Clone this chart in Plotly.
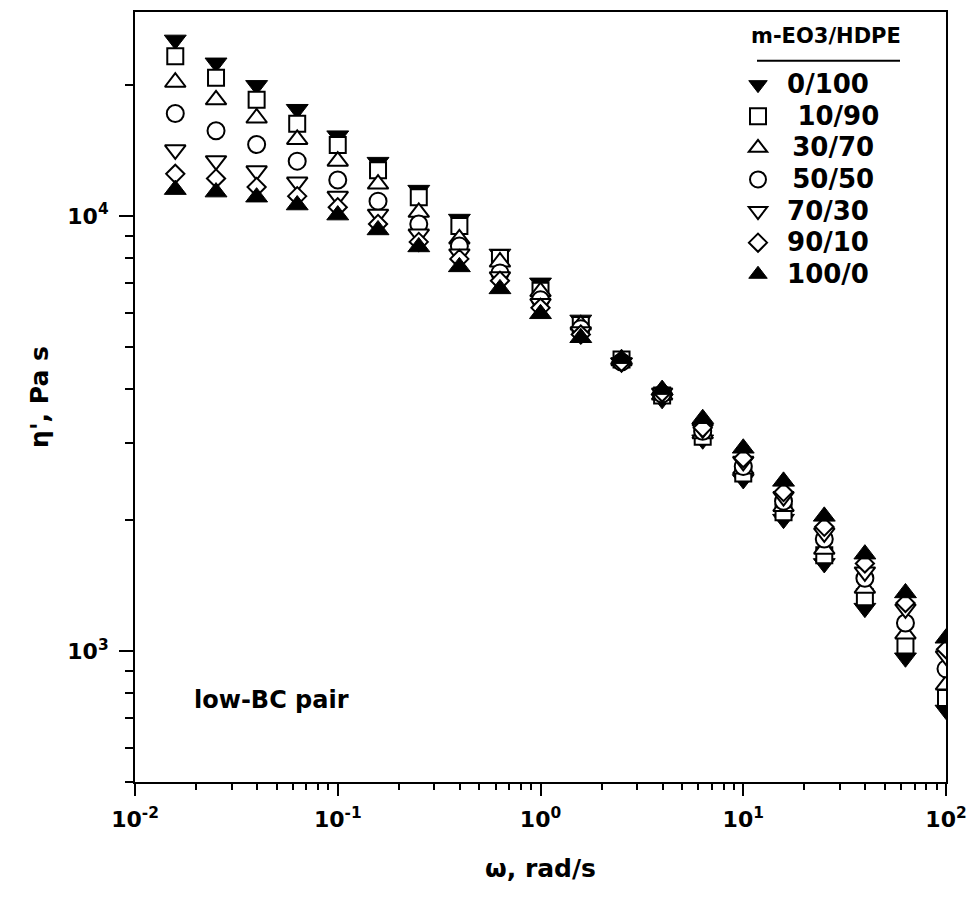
import plotly.graph_objects as go
import math

# ---------------- data ----------------
omega = [0.0158, 0.0251, 0.0398, 0.0631, 0.1, 0.158, 0.251, 0.398, 0.631, 1.0,
         1.58, 2.51, 3.98, 6.31, 10, 15.8, 25.1, 39.8, 63.1, 100]

labels = ["0/100", "\u2009\u200910/90", "\u200930/70", "\u200950/50", "70/30", "90/10", "100/0"]
legend_title = "m-EO3/HDPE"

eta_0_100 = [25400, 22500, 19970, 17600, 15300, 13300, 11470, 9840, 8180, 7020,
             5770, 4600, 3790, 3060, 2480, 2010, 1590, 1255, 965, 732]
eta_10_90 = [23300, 20800, 18500, 16300, 14560, 12750, 11050, 9490, 8010, 6730,
             5620, 4680, 3870, 3110, 2560, 2085, 1660, 1330, 1030, 780]
eta_30_70 = [20300, 18500, 16800, 15000, 13370, 11840, 10200, 8860, 7840, 6700,
             5620, 4650, 3880, 3160, 2620, 2150, 1715, 1395, 1095, 836]
eta_50_50 = [17200, 15700, 14600, 13370, 12100, 10820, 9590, 8530, 7400, 6420,
             5510, 4620, 3900, 3200, 2655, 2210, 1810, 1470, 1160, 910]
eta_70_30 = [14200, 13400, 12700, 11970, 11100, 10100, 9090, 8180, 7250, 6290,
             5420, 4600, 3920, 3240, 2730, 2265, 1870, 1520, 1250, 975]
eta_90_10 = [12500, 12200, 11660, 11110, 10480, 9590, 8720, 7970, 7100, 6150,
             5340, 4620, 3930, 3260, 2775, 2320, 1930, 1590, 1290, 1010]
eta_100_0 = [11500, 11350, 11050, 10600, 10050, 9290, 8490, 7640, 6800, 5960,
             5250, 4700, 3990, 3420, 2925, 2455, 2040, 1670, 1360, 1070]

series = [eta_0_100, eta_10_90, eta_30_70, eta_50_50, eta_70_30, eta_90_10, eta_100_0]

# ---------------- styles ----------------
symbols = ["triangle-down", "square", "triangle-up", "circle", "triangle-down", "diamond", "triangle-up"]
fills = ["black", "white", "white", "white", "white", "white", "black"]
sizes = [19, 16, 18, 17, 18, 14, 19]
FONT = "DejaVu Sans"

fig = go.Figure()
for lab, ys, sym, fc, sz in zip(labels, series, symbols, fills, sizes):
    fig.add_trace(go.Scatter(
        x=omega, y=ys, mode="markers",
        name='<span style="font-size:26px"> ' + lab + '</span>',
        marker=dict(symbol=sym, size=sz, color=fc,
                    line=dict(color="black", width=2 if fc == "white" else 1)),
    ))

x_major = [0.01, 0.1, 1, 10, 100]
x_major_text = ["10<sup>-2</sup>", "10<sup>-1</sup>", "10<sup>0</sup>", "10<sup>1</sup>", "10<sup>2</sup>"]
x_minor = [m * d for d in [0.01, 0.1, 1, 10] for m in range(2, 10)]
y_major = [1000, 10000]
y_major_text = ["10<sup>3</sup>", "10<sup>4</sup>"]
y_minor = [m * d for d in [100, 1000, 10000] for m in range(2, 10) if 500 <= m * d <= 29000]

axis_font = dict(family=FONT, size=22, color="black", weight="bold")
title_font = dict(family=FONT, size=25, color="black", weight="bold")

fig.update_xaxes(
    type="log", range=[-2, 2],
    tickvals=x_major, ticktext=x_major_text, tickfont=axis_font,
    ticks="outside", ticklen=12, tickwidth=2, tickcolor="black",
    minor=dict(tickvals=x_minor, ticks="outside", ticklen=6, tickwidth=1.5, tickcolor="black"),
    showline=True, linewidth=2, linecolor="black", mirror=True,
    showgrid=False, zeroline=False,
    title=dict(text="ω, rad/s", font=title_font, standoff=28),
    ticklabelstandoff=5,
)
fig.update_yaxes(
    type="log", range=[math.log10(500), 4.469],
    tickvals=y_major, ticktext=y_major_text, tickfont=axis_font,
    ticks="outside", ticklen=14, tickwidth=2, tickcolor="black",
    minor=dict(tickvals=y_minor, ticks="outside", ticklen=8, tickwidth=1.5, tickcolor="black"),
    showline=True, linewidth=2, linecolor="black", mirror=True,
    showgrid=False, zeroline=False,
    title=dict(text="η', Pa s", font=title_font, standoff=12),
    ticklabelstandoff=6,
)

fig.update_layout(
    width=977, height=902,
    margin=dict(l=135, r=31, t=10, b=120),
    paper_bgcolor="white", plot_bgcolor="white",
    showlegend=True,
    legend=dict(
        x=(738 - 135) / 811, y=1 - (62 - 10) / 772, xanchor="left", yanchor="top",
        font=dict(family=FONT, size=22, color="black", weight="bold"),
        bgcolor="rgba(0,0,0,0)", borderwidth=0,
        itemsizing="trace",
    ),
    annotations=[
        dict(text=legend_title, xref="paper", yref="paper", x=(826 - 135) / 811, y=1 - (34 - 10) / 772,
             xanchor="center", yanchor="middle", showarrow=False,
             font=dict(family=FONT, size=21, color="black", weight="bold")),
        dict(text="low-BC pair", xref="paper", yref="paper", x=(192 - 135) / 811, y=1 - (700 - 10) / 772,
             xanchor="left", yanchor="middle", showarrow=False,
             font=dict(family=FONT, size=24, color="black", weight="bold")),
    ],
    shapes=[
        dict(type="line", xref="paper", yref="paper", x0=(757 - 135) / 811, x1=(900 - 135) / 811,
             y0=1 - (59 - 10) / 772, y1=1 - (59 - 10) / 772,
             line=dict(color="black", width=2)),
    ],
)

fig.write_html("out.html")
